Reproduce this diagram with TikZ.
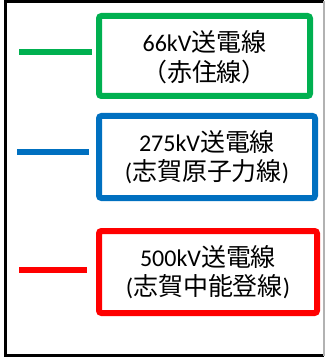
\documentclass[tikz,border=0pt]{standalone}
\usepackage{fontspec}
\setmainfont{Carlito}
\newfontfamily\cjk{Noto Sans CJK JP}[Scale=1.04]
\tikzset{
  legbox/.style={line width=6pt, rounded corners=2.5pt},
  legline/.style={line width=6pt},
  legtext/.style={align=center, font=\fontsize{24}{29.5}\selectfont, inner sep=0pt},
}
\definecolor{lgreen}{HTML}{00B050}
\definecolor{lblue}{HTML}{0070C0}
\definecolor{lred}{HTML}{FF0000}
\begin{document}
\begin{tikzpicture}[x=1pt,y=-1pt]
\useasboundingbox (0,0) rectangle (325,358);
\fill[white] (0,0) rectangle (325,358);
% frame
\draw[black, line width=3pt] (324,1.5) -- (5.5,1.5) -- (5.5,355.5) -- (324,355.5);
\draw[black!30, line width=1.5pt] (324,1.5) -- (324,355.5);
% green
\draw[legline, lgreen] (19,52) coordinate (g1) -- (92,52) coordinate (g2);
\draw[legbox, lgreen] (99,16) rectangle (310,96);
\node[legtext] (gt) at (204.5,57) {66kV{\cjk 送電線}\\{\cjk （赤住線）}};
% blue
\draw[legline, lblue] (17,152) coordinate (b1) -- (89,152) coordinate (b2);
\draw[legbox, lblue] (99,116) rectangle (315,198);
\node[legtext] (bt) at (207,157) {275kV{\cjk 送電線}\\({\cjk 志賀原子力線})};
% red
\draw[legline, lred] (19,269.5) coordinate (r1) -- (87,269.5) coordinate (r2);
\draw[legbox, lred] (99,231) rectangle (317,313);
\node[legtext] (rt) at (208,272) {500kV{\cjk 送電線}\\({\cjk 志賀中能登線})};
\end{tikzpicture}
\end{document}
